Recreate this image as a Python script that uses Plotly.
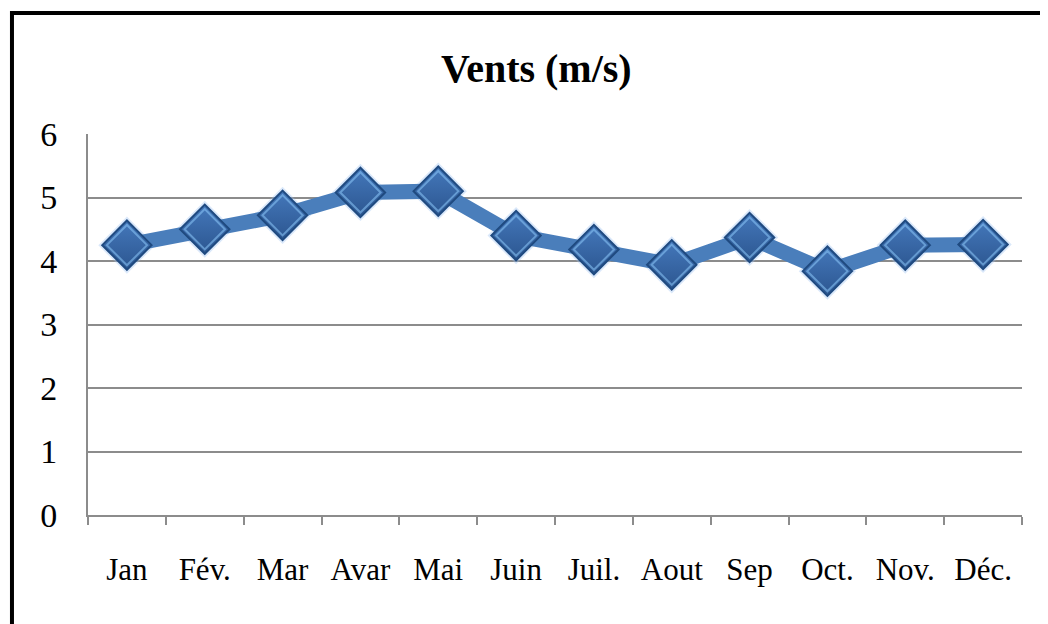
import plotly.graph_objects as go

months = ["Jan", "Fév.", "Mar", "Avar", "Mai", "Juin", "Juil.", "Aout", "Sep", "Oct.", "Nov.", "Déc."]
vents = [4.25, 4.5, 4.72, 5.08, 5.1, 4.4, 4.18, 3.94, 4.37, 3.84, 4.25, 4.26]
y_ticks = [0, 1, 2, 3, 4, 5, 6]

fig = go.Figure()
# glow under markers
fig.add_trace(go.Scatter(
    x=months, y=vents, mode="markers",
    marker=dict(symbol="diamond", size=44, color="rgba(150,190,240,0.35)", line=dict(width=0)),
    hoverinfo="skip", showlegend=False))
fig.add_trace(go.Scatter(
    x=months, y=vents, mode="lines+markers",
    line=dict(color="#4a7ebb", width=15),
    marker=dict(symbol="diamond", size=38, color="#4478bb",
                gradient=dict(type="vertical", color="#2c5690"),
                line=dict(color="#1f4a80", width=2)),
    showlegend=False))
# light bevel highlight
fig.add_trace(go.Scatter(
    x=months, y=vents, mode="markers",
    marker=dict(symbol="diamond-open", size=31, color="rgba(140,200,250,0.55)", line=dict(width=2)),
    hoverinfo="skip", showlegend=False))

fig.update_layout(
    width=1048, height=624,
    margin=dict(l=80, r=34, t=126, b=117),
    paper_bgcolor="white", plot_bgcolor="white",
    title=dict(text="<b>Vents (m/s)</b>", x=0.48, xref="paper", xanchor="center", y=0.904, yanchor="middle",
               font=dict(family="Liberation Serif", size=40, color="black")),
    font=dict(family="Liberation Serif", color="black"),
    xaxis=dict(type="category", categoryorder="array", categoryarray=months,
               range=[-0.5, 11.5], showgrid=False, tickson="boundaries",
               ticks="outside", ticklen=8, tickcolor="#8c8c8c", tickwidth=2,
               showline=True, linecolor="#8c8c8c", linewidth=2,
               ticklabelstandoff=26, tickfont=dict(size=31, color="black")),
    yaxis=dict(range=[0, 6], tickvals=y_ticks, showgrid=True, gridcolor="#8c8c8c", gridwidth=2,
               showline=True, linecolor="#8c8c8c", linewidth=2, zeroline=False,
               ticks="", ticklabelstandoff=22, tickfont=dict(size=34, color="black")),
    shapes=[dict(type="rect", xref="paper", yref="paper", x0=-0.0814, x1=1.2, y0=-0.6, y1=1.3176,
                 line=dict(color="black", width=4), fillcolor="rgba(0,0,0,0)", layer="below")],
)

fig.write_html("out.html")
